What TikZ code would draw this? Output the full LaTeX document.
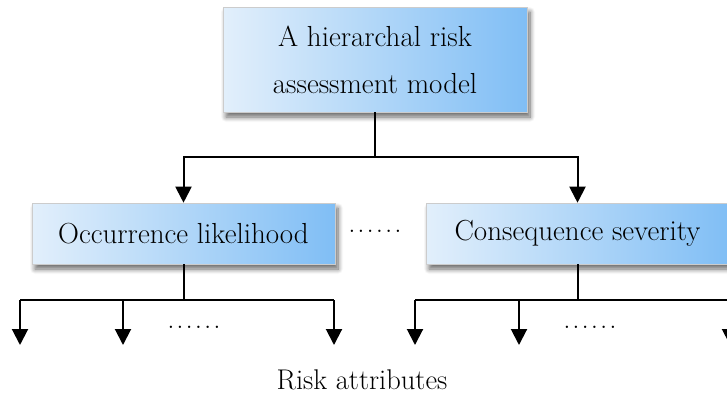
\documentclass[tikz,border=0pt]{standalone}
\usepackage{fontspec}
\usetikzlibrary{arrows.meta,shadows.blur}
\definecolor{boxleft}{HTML}{E2EFFB}
\definecolor{boxright}{HTML}{80BEF5}
\newcommand{\sixdots}{.\kern2pt.\kern2pt.\kern2pt.\kern2pt.\kern2pt.}
\tikzset{
  box/.style={draw=black!20, line width=0.6pt, left color=boxleft, right color=boxright,
    shading angle=90, blur shadow={shadow xshift=3pt, shadow yshift=-5pt, shadow blur steps=8, shadow blur radius=5pt, shadow opacity=60},
    inner sep=0pt, align=center, font=\fontsize{29}{47}\selectfont},
  conn/.style={line width=2pt},
  arr/.style={line width=2pt, -{Triangle[length=16pt,width=16pt]}},
  dots/.style={font=\fontsize{29}{30}\selectfont, inner sep=0pt},
  lbl/.style={font=\fontsize{28.5}{32}\selectfont}
}
\begin{document}
\begin{tikzpicture}[x=1pt,y=-1pt]
\useasboundingbox (0,0) rectangle (727,394);
\clip (0,0) rectangle (727,394);
% nodes
\node[box, minimum width=304pt, minimum height=105pt] (top) at (375,59.5) {A hierarchal risk\\assessment model};
\node[box, minimum width=303pt, minimum height=61pt] (occ) at (183.5,233.5) {Occurrence likelihood};
\node[box, minimum width=303pt, minimum height=61pt] (cons) at (577.5,233.5) {Consequence severity};
\node[dots] (d1) at (375,231) {\sixdots};
\node[dots] (d2) at (194,327) {\sixdots};
\node[dots] (d3) at (590,327) {\sixdots};
\node[lbl] (ra) at (362,380) {Risk attributes};
% junctions
\coordinate (j1) at (375,157);
\coordinate (j2) at (183.5,300);
\coordinate (j3) at (577.5,300);
\coordinate (l1) at (20,300);
\coordinate (l2) at (123,300);
\coordinate (l3) at (334,300);
\coordinate (r1) at (415,300);
\coordinate (r2) at (519,300);
\coordinate (r3) at (730,300);
\coordinate (l1e) at (20,345);
\coordinate (l2e) at (123,345);
\coordinate (l3e) at (334,345);
\coordinate (r1e) at (415,345);
\coordinate (r2e) at (519,345);
\coordinate (r3e) at (730,345);
% connectors
\draw[conn] (top.south) -- (j1);
\draw[arr] (j1) -| (occ.north);
\draw[arr] (j1) -| (cons.north);
\draw[conn] (occ.south) -- (j2);
\draw[conn] (l1) -- (l3);
\draw[arr] (l1) -- (l1e);
\draw[arr] (l2) -- (l2e);
\draw[arr] (l3) -- (l3e);
\draw[conn] (cons.south) -- (j3);
\draw[conn] (r1) -- (r3);
\draw[arr] (r1) -- (r1e);
\draw[arr] (r2) -- (r2e);
\draw[arr] (r3) -- (r3e);
\end{tikzpicture}
\end{document}
